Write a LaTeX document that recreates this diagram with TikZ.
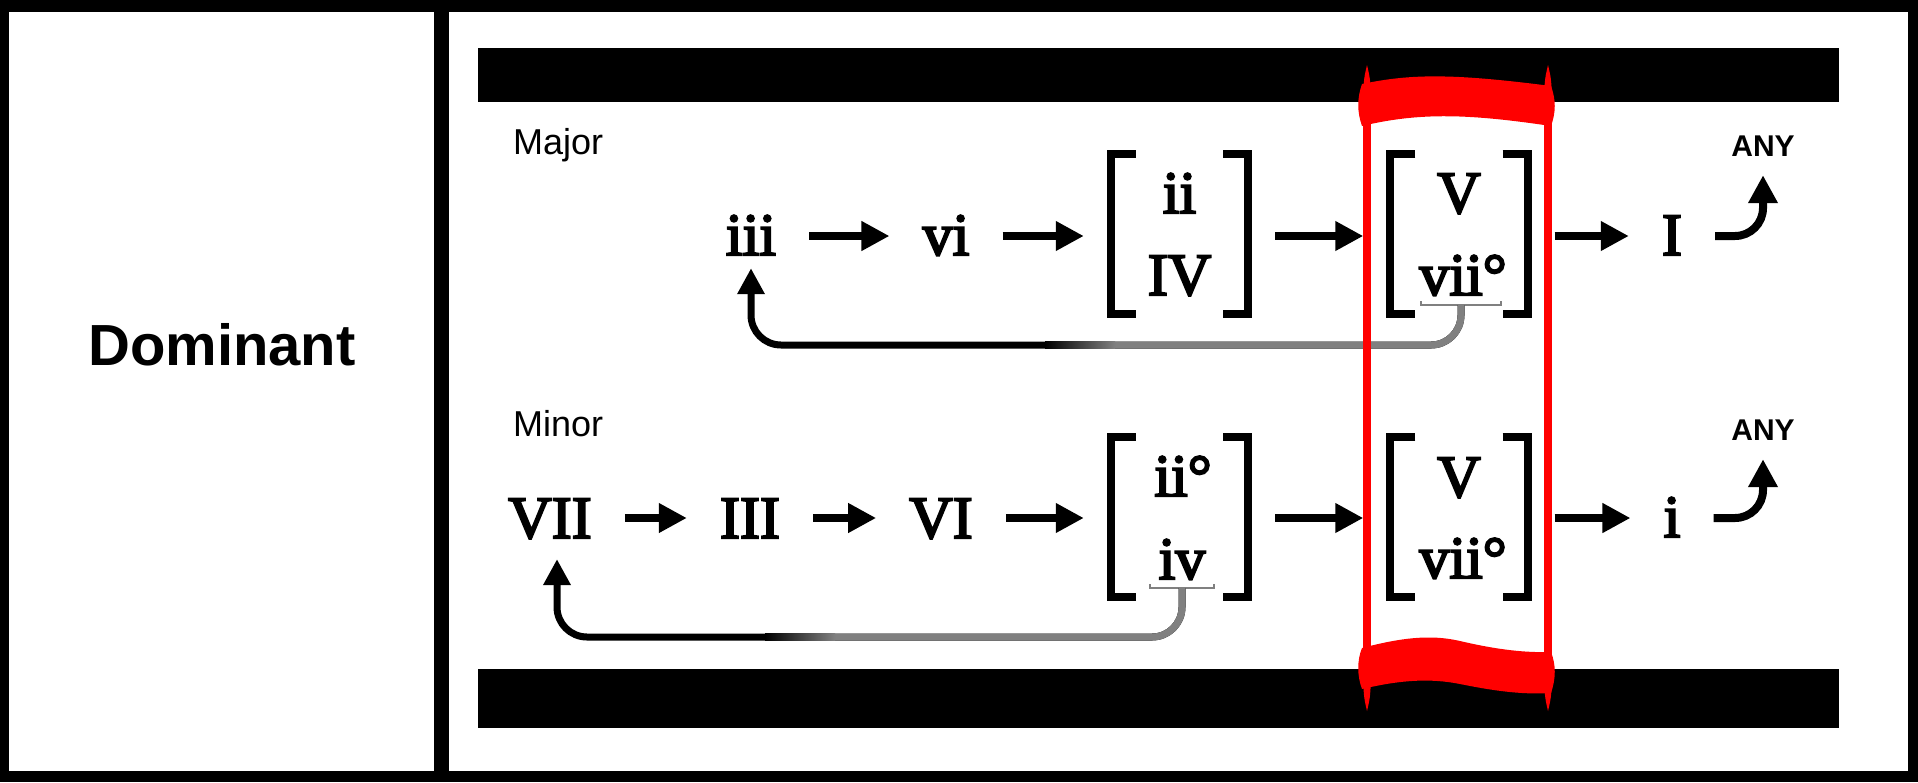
\documentclass[tikz,border=0pt]{standalone}
\usepackage{fontspec}
\setsansfont{Liberation Sans}
\newfontfamily\chordfont{Liberation Serif}[FakeBold=3.5]
\usetikzlibrary{arrows.meta,positioning,calc}
\definecolor{bandred}{HTML}{FF0000}
\colorlet{loopgray}{black!50}

\begin{document}
\begin{tikzpicture}[x=1pt, y=-1pt,
  chord/.style={font=\chordfont\fontsize{60}{60}\selectfont, inner xsep=6pt, inner ysep=0pt, anchor=base},
  mode/.style={font=\sffamily\fontsize{36}{36}\selectfont, inner sep=0pt, anchor=base west},
  any/.style={font=\sffamily\bfseries\fontsize{30}{30}\selectfont, inner sep=0pt, anchor=base},
  bracket/.style={minimum width=137pt, minimum height=160pt, inner sep=0pt},
  bkline/.style={line width=8pt, line cap=butt, line join=miter},
  flow/.style={line width=8pt, -{Triangle[length=28pt,width=28pt]}, shorten <=27pt, shorten >=27pt},
  loop/.style={line width=7pt, rounded corners=30pt, -{Triangle[length=26pt,width=26pt]}},
  brace/.style={draw=loopgray, line width=1.5pt}]

% FRAME

\fill[black] (0,0) rectangle (1918,782);
\fill[white] (9,12) rectangle (434,771);
\fill[white] (449,12) rectangle (1908,771);
\fill[black] (478,48) rectangle (1839,102);
\fill[black] (478,669) rectangle (1839,728);

\node[font=\sffamily\bfseries\fontsize{58}{58}\selectfont, anchor=base] (dominant) at (222,365) {Dominant};

% MAJOR

\node[mode] (major) at (513,154) {Major};
\coordinate (rowA) at (0,236);

\node[chord] (iii) at (751,255) {iii};
\node[chord] (vi) at (946,255) {vi};
\node[bracket] (bkA) at (1179.5,234) {};
\node[chord] (ii) at (1179.5,213) {ii};
\node[chord] (IV) at (1179.5,295) {IV};
\node[bracket] (bkB) at (1459,234) {};
\node[chord] (V) at (1459,213) {V};
\node[chord] (vii) at (1463,295) {vii°};
\node[chord] (I) at (1672,255) {I};
\node[any] (anyA) at (1763,156) {ANY};

% MINOR

\node[mode] (minor) at (513,436) {Minor};
\coordinate (rowB) at (0,518);

\node[chord] (VII) at (550,538) {VII};
\node[chord] (III) at (750,538) {III};
\node[chord] (VI) at (941,538) {VI};
\node[bracket] (bkC) at (1179.5,517) {};
\node[chord] (iidim) at (1183,496) {ii°};
\node[chord] (iv) at (1182,579) {iv};
\node[bracket] (bkD) at (1459,517) {};
\node[chord] (Vm) at (1459,497) {V};
\node[chord] (viim) at (1463,578) {vii°};
\node[chord] (i) at (1672,537) {i};
\node[any] (anyB) at (1763,440) {ANY};

% BRACKETS

\foreach \b in {bkA,bkB,bkC,bkD} {
  \draw[bkline] ([xshift=25pt]\b.north west) -- (\b.north west) -- (\b.south west) -- ([xshift=25pt]\b.south west);
  \draw[bkline] ([xshift=-25pt]\b.north east) -- (\b.north east) -- (\b.south east) -- ([xshift=-25pt]\b.south east);
}

% ARROWS

\foreach \a/\b in {iii/vi, vi/bkA, bkA/bkB, bkB/I}
  \draw[flow] (\a.east |- rowA) -- (\b.west |- rowA);
\foreach \a/\b in {VII/III, III/VI, VI/bkC, bkC/bkD, bkD/i}
  \draw[flow] (\a.east |- rowB) -- (\b.west |- rowB);

\draw[flow, rounded corners=28pt, shorten >=19pt] (I.east |- rowA) -| (anyA.south);
\draw[flow, rounded corners=28pt, shorten >=19pt] (i.east |- rowB) -| (anyB.south);

% LOOPS BACK

\coordinate (braceA) at (1461,305);
\coordinate (loopA) at (1000,345);
\coordinate (fadeA) at (1115,345);
\draw[brace] ([xshift=-40pt,yshift=4pt]braceA) -- ([xshift=-40pt]braceA) -- ([xshift=40pt]braceA) -- ([xshift=40pt,yshift=4pt]braceA);
\draw[loop, shorten >=13pt] (braceA) |- (loopA) -| (iii.south);
\draw[loop, draw=loopgray, -] (braceA) |- (fadeA);
\shade[left color=black, right color=loopgray] (1045,341.5) rectangle (1115,348.5);

\coordinate (braceB) at (1182,588);
\coordinate (loopB) at (700,637);
\coordinate (fadeB) at (835,637);
\draw[brace] ([xshift=-32pt,yshift=4pt]braceB) -- ([xshift=-32pt]braceB) -- ([xshift=32pt]braceB) -- ([xshift=32pt,yshift=4pt]braceB);
\draw[loop, shorten >=20pt] (braceB) |- (loopB) -| ([xshift=7pt]VII.south);
\draw[loop, draw=loopgray, -] (braceB) |- (fadeB);
\shade[left color=black, right color=loopgray] (765,633.5) rectangle (835,640.5);

% DOMINANT BAND

\draw[bandred, line width=8pt] (1367,100) -- (1367,665);
\draw[bandred, line width=8pt] (1548,100) -- (1548,665);

\fill[bandred] (1362,84) .. controls (1410,74) and (1450,73) .. (1551,86)
  .. controls (1556,100) and (1556,112) .. (1551,126)
  .. controls (1470,114) and (1420,112) .. (1362,126)
  .. controls (1357,112) and (1357,98) .. cycle;
\fill[bandred] (1362,648) .. controls (1400,638) and (1430,634) .. (1460,641)
  .. controls (1490,648) and (1520,653) .. (1551,652)
  .. controls (1556,665) and (1556,678) .. (1551,693)
  .. controls (1520,695) and (1490,690) .. (1460,684)
  .. controls (1430,678) and (1400,680) .. (1362,689)
  .. controls (1357,676) and (1357,660) .. cycle;

\foreach \x in {1367,1548} {
  \fill[bandred] (\x-4,95) .. controls (\x-3,78) .. (\x,65) .. controls (\x+3,78) .. (\x+4,95) -- cycle;
  \fill[bandred] (\x-4,680) .. controls (\x-3,698) .. (\x,711) .. controls (\x+3,698) .. (\x+4,680) -- cycle;
}

\end{tikzpicture}
\end{document}
